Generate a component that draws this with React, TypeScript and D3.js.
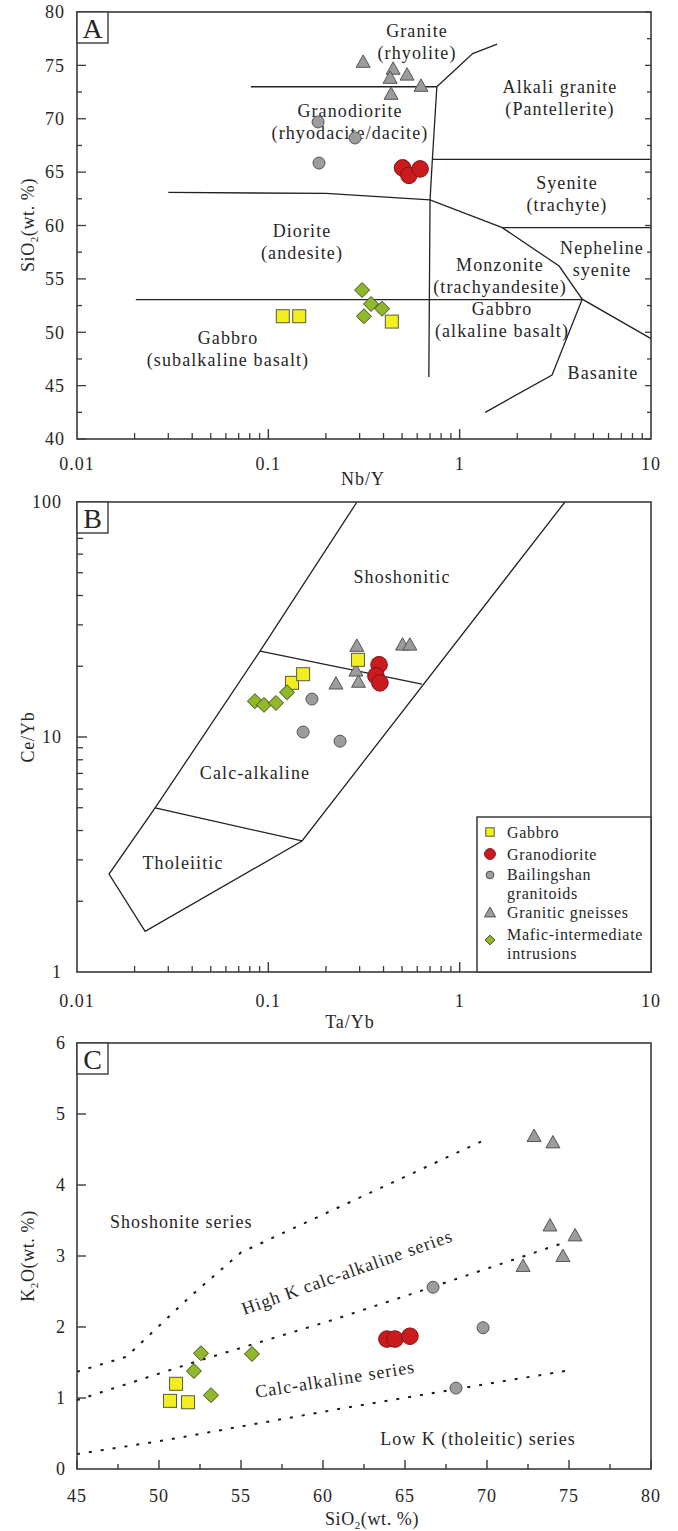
import React from "react";
import * as d3 from "d3";

// ---------- DATA ----------
// Panel A: Nb/Y vs SiO2
const aGabbro = [[0.119, 51.5], [0.145, 51.5], [0.442, 51.0]];
const aGranodiorite = [[0.503, 65.4], [0.543, 64.7], [0.621, 65.3]];
const aBailingshan = [[0.182, 69.7], [0.184, 65.85], [0.284, 68.2]];
const aGneiss = [[0.313, 75.4], [0.449, 74.75], [0.531, 74.2], [0.433, 73.9], [0.628, 73.15], [0.438, 72.4]];
const aMafic = [[0.309, 53.95], [0.344, 52.65], [0.393, 52.2], [0.316, 51.5]];

// Panel B: Ta/Yb vs Ce/Yb
const bGabbro = [[0.133, 17.0], [0.152, 18.5], [0.294, 21.3]];
const bGranodiorite = [[0.379, 20.3], [0.365, 18.2], [0.383, 17.0]];
const bBailingshan = [[0.169, 14.5], [0.152, 10.5], [0.237, 9.6]];
const bGneiss = [[0.290, 24.6], [0.287, 19.3], [0.296, 17.3], [0.2256, 17.0], [0.503, 24.9], [0.549, 24.9]];
const bMafic = [[0.0851, 14.2], [0.0949, 13.7], [0.1096, 13.96], [0.1252, 15.5]];

// Panel C: SiO2 vs K2O
const cGabbro = [[51.04, 1.2], [50.67, 0.96], [51.77, 0.94]];
const cGranodiorite = [[63.9, 1.83], [64.39, 1.83], [65.3, 1.87]];
const cBailingshan = [[66.71, 2.56], [69.76, 1.99], [68.11, 1.14]];
const cGneiss = [[72.87, 4.7], [74.02, 4.61], [73.84, 3.44], [75.37, 3.3], [74.63, 3.01], [72.2, 2.87]];
const cMafic = [[52.56, 1.63], [52.13, 1.38], [53.17, 1.04], [55.67, 1.62]];

// Boundary lines
const aLines = [
  [[0.081, 73], [0.76, 73]],
  [[0.76, 73], [1.17, 76.1], [1.57, 77.0]],
  [[0.76, 73], [0.72, 66.2], [0.70, 62.4], [0.69, 45.8]],
  [[0.72, 66.2], [10, 66.2]],
  [[1.67, 59.8], [10, 59.8]],
  [[0.03, 63.1], [0.2, 63.0], [0.70, 62.4], [1.67, 59.8], [3.31, 56.2], [4.37, 53.1], [10, 49.4]],
  [[4.37, 53.1], [3.04, 46.0], [1.36, 42.5]],
  [[0.0203, 53.05], [4.37, 53.05]],
];
const bLines = [
  [[0.2905, 100], [0.0905, 23.2], [0.0256, 4.99], [0.0147, 2.61], [0.0227, 1.49], [0.15, 3.61], [3.55, 100]],
  [[0.0905, 23.2], [0.635, 16.8]],
  [[0.0256, 4.99], [0.15, 3.61]],
];
const cLines = [
  [[45, 1.37], [48, 1.58], [52, 2.45], [55, 3.05], [70, 4.65]],
  [[45, 0.97], [52.5, 1.53], [60.6, 2.1], [66.5, 2.55], [74.6, 3.18]],
  [[45, 0.21], [50.5, 0.41], [55.5, 0.62], [60.6, 0.83], [67.7, 1.11], [75, 1.39]],
];

const aYTicks = [40, 45, 50, 55, 60, 65, 70, 75, 80];
const logXTicks = [0.01, 0.1, 1, 10];
const logXLabels = ["0.01", "0.1", "1", "10"];
const bYTicks = [1, 10, 100];
const cXTicks = [45, 50, 55, 60, 65, 70, 75, 80];
const cYTicks = [0, 1, 2, 3, 4, 5, 6];

const legendItems = [
  { shape: "square", lines: ["Gabbro"] },
  { shape: "red", lines: ["Granodiorite"] },
  { shape: "gray", lines: ["Bailingshan", "granitoids"] },
  { shape: "tri", lines: ["Granitic gneisses"] },
  { shape: "diamond", lines: ["Mafic-intermediate", "intrusions"] },
];

// ---------- STYLE ----------
const FONT = "'Liberation Serif','Times New Roman',Times,serif";
const TXT = "#262626";
const FRAME = "#3a3a3a";
const YELLOW = "#f3ee1f";
const RED = "#cc1b1f";
const GRAY = "#9c9c9c";
const GREEN = "#8fb82a";

const X0 = 77, X1 = 651;

function Marker({ shape, x, y, s = 1 }) {
  if (shape === "square") {
    const h = 6.5 * s;
    return <rect x={x - h} y={y - h} width={2 * h} height={2 * h} fill={YELLOW} stroke="#5a5a3a" strokeWidth={1} />;
  }
  if (shape === "red") return <circle cx={x} cy={y} r={8.3 * s} fill={RED} stroke="#7a1515" strokeWidth={1} />;
  if (shape === "gray") return <circle cx={x} cy={y} r={6 * s} fill={GRAY} stroke="#555" strokeWidth={1} />;
  if (shape === "tri") {
    const w = 7 * s, h = 6.2 * s;
    return <path d={`M${x},${y - h}L${x + w},${y + h}L${x - w},${y + h}Z`} fill={GRAY} stroke="#555" strokeWidth={1} />;
  }
  const d = 7.5 * s;
  return <path d={`M${x},${y - d}L${x + d},${y}L${x},${y + d}L${x - d},${y}Z`} fill={GREEN} stroke="#44501c" strokeWidth={1} />;
}

function Points({ data, shape, xs, ys }) {
  return <g>{data.map((p, i) => <Marker key={i} shape={shape} x={xs(p[0])} y={ys(p[1])} />)}</g>;
}

function Label({ x, y, lines, size = 18, anchor = "middle", ls = 1.1, gap = 22 }) {
  return (
    <g>
      {lines.map((t, i) => (
        <text key={i} x={x} y={y + i * gap} dy="0.35em" textAnchor={anchor} fontSize={size}
          fontFamily={FONT} fill={TXT} letterSpacing={ls}>{t}</text>
      ))}
    </g>
  );
}

function Frame({ top, bottom, letter }) {
  return (
    <g>
      <rect x={X0} y={top} width={X1 - X0} height={bottom - top} fill="none" stroke={FRAME} strokeWidth={1.6} />
      <rect x={X0} y={top} width={31} height={31} fill="#fff" stroke={FRAME} strokeWidth={1.4} />
      <text x={X0 + 15.5} y={top + 16} dy="0.35em" textAnchor="middle" fontSize={28} fontFamily={FONT} fill={TXT}>{letter}</text>
    </g>
  );
}

function LogXAxis({ xs, yAxis, labelY }) {
  const minors = [];
  [0.01, 0.1, 1].forEach((dec) => {
    for (let k = 2; k <= 9; k++) minors.push(dec * k);
  });
  return (
    <g>
      {minors.map((v, i) => (
        <line key={"m" + i} x1={xs(v)} x2={xs(v)} y1={yAxis} y2={yAxis - 6} stroke={FRAME} strokeWidth={1.3} />
      ))}
      {[0.1, 1].map((v, i) => (
        <line key={"M" + i} x1={xs(v)} x2={xs(v)} y1={yAxis} y2={yAxis - 10} stroke={FRAME} strokeWidth={1.4} />
      ))}
      {logXTicks.map((v, i) => (
        <text key={"l" + i} x={xs(v)} y={labelY} textAnchor="middle" fontSize={18} fontFamily={FONT} fill={TXT} letterSpacing={1}>{logXLabels[i]}</text>
      ))}
    </g>
  );
}

function Lines({ lines, xs, ys, dashed = false }) {
  const gen = d3.line().x((d) => xs(d[0])).y((d) => ys(d[1]));
  return (
    <g>
      {lines.map((l, i) => (
        <path key={i} d={gen(l)} fill="none" stroke={dashed ? "#1a1a1a" : "#222"}
          strokeWidth={dashed ? 2 : 1.3} strokeDasharray={dashed ? "3 9" : undefined} />
      ))}
    </g>
  );
}

export default function App() {
  // Scales
  const xA = d3.scaleLog().domain([0.01, 10]).range([X0, X1]);
  const yA = d3.scaleLinear().domain([40, 80]).range([439, 12]);
  const xB = d3.scaleLog().domain([0.01, 10]).range([X0, X1]);
  const yB = d3.scaleLog().domain([1, 100]).range([972, 502]);
  const xC = d3.scaleLinear().domain([45, 80]).range([X0, X1]);
  const yC = d3.scaleLinear().domain([0, 6]).range([1469, 1043]);

  const aSteps = d3.range(40, 80.01, 2.5);
  const bMinor = [];
  [1, 10].forEach((dec) => { for (let k = 2; k <= 9; k++) bMinor.push(dec * k); });
  const cMinorX = d3.range(45, 80.01, 2.5);

  return (
    <svg width={678} height={1531} style={{ position: "absolute", left: 0, top: 0, background: "#fff" }}>
      <rect width={678} height={1531} fill="#fff" />

      {/* ---------- Panel A ---------- */}
      <Lines lines={aLines} xs={xA} ys={yA} />
      {aSteps.map((v, i) => {
        const major = v % 5 === 0;
        return (
          <g key={i}>
            <line x1={X0} x2={X0 + (major ? 9 : 5)} y1={yA(v)} y2={yA(v)} stroke={FRAME} strokeWidth={1.3} />
            <line x1={X1} x2={X1 - (major ? 6 : 4)} y1={yA(v)} y2={yA(v)} stroke={FRAME} strokeWidth={1.3} />
          </g>
        );
      })}
      {aYTicks.map((v) => (
        <text key={v} x={65} y={yA(v)} dy="0.35em" textAnchor="end" fontSize={18} fontFamily={FONT} fill={TXT} letterSpacing={1}>{v}</text>
      ))}
      <LogXAxis xs={xA} yAxis={439} labelY={470} />
      <Label x={417} y={31} lines={["Granite", "(rhyolite)"]} />
      <Label x={560} y={87} lines={["Alkali granite", "(Pantellerite)"]} />
      <Label x={350} y={111} lines={["Granodiorite", "(rhyodacite/dacite)"]} />
      <Label x={567} y={183} lines={["Syenite", "(trachyte)"]} />
      <Label x={302} y={231} lines={["Diorite", "(andesite)"]} />
      <Label x={602} y={248} lines={["Nepheline", "syenite"]} />
      <Label x={500} y={265} lines={["Monzonite", "(trachyandesite)"]} />
      <Label x={502} y={309} lines={["Gabbro", "(alkaline basalt)"]} />
      <Label x={603} y={373} lines={["Basanite"]} />
      <Label x={228} y={338} lines={["Gabbro", "(subalkaline basalt)"]} />
      <Points data={aBailingshan} shape="gray" xs={xA} ys={yA} />
      <Points data={aGneiss} shape="tri" xs={xA} ys={yA} />
      <Points data={aGranodiorite} shape="red" xs={xA} ys={yA} />
      <Points data={aGabbro} shape="square" xs={xA} ys={yA} />
      <Points data={aMafic} shape="diamond" xs={xA} ys={yA} />
      <Frame top={12} bottom={439} letter="A" />
      <text x={363} y={485} textAnchor="middle" fontSize={18} fontFamily={FONT} fill={TXT} letterSpacing={1}>Nb/Y</text>
      <text transform="translate(34,225) rotate(-90)" textAnchor="middle" fontSize={18} fontFamily={FONT} fill={TXT} letterSpacing={0.6}>
        SiO<tspan fontSize={11} dy={4}>2</tspan><tspan dy={-4}>(wt.  %)</tspan>
      </text>

      {/* ---------- Panel B ---------- */}
      <Lines lines={bLines} xs={xB} ys={yB} />
      {bMinor.map((v, i) => (
        <line key={i} x1={X0} x2={X0 + 6} y1={yB(v)} y2={yB(v)} stroke={FRAME} strokeWidth={1.3} />
      ))}
      <line x1={X0} x2={X0 + 10} y1={yB(10)} y2={yB(10)} stroke={FRAME} strokeWidth={1.4} />
      {bYTicks.map((v) => (
        <text key={v} x={62} y={yB(v)} dy="0.35em" textAnchor="end" fontSize={18} fontFamily={FONT} fill={TXT} letterSpacing={1}>{v}</text>
      ))}
      <LogXAxis xs={xB} yAxis={972} labelY={1007} />
      <Label x={402} y={577} lines={["Shoshonitic"]} />
      <Label x={255} y={773} lines={["Calc-alkaline"]} />
      <Label x={183} y={863} lines={["Tholeiitic"]} />
      <Points data={bBailingshan} shape="gray" xs={xB} ys={yB} />
      <Points data={bGneiss} shape="tri" xs={xB} ys={yB} />
      <Points data={bGranodiorite} shape="red" xs={xB} ys={yB} />
      <Points data={bGabbro} shape="square" xs={xB} ys={yB} />
      <Points data={bMafic} shape="diamond" xs={xB} ys={yB} />
      <Frame top={502} bottom={972} letter="B" />
      {/* legend */}
      <rect x={477} y={817} width={X1 - 477} height={972 - 817} fill="#fff" stroke={FRAME} strokeWidth={1.5} />
      {(() => {
        const rows = [832, 854, 875, 912, 940];
        const textRows = [[832], [854], [874, 893], [912], [934, 953]];
        return legendItems.map((it, i) => (
          <g key={i}>
            <Marker shape={it.shape} x={490} y={rows[i]} s={it.shape === "tri" ? 0.8 : 0.65} />
            {it.lines.map((t, j) => (
              <text key={j} x={507} y={textRows[i][j]} dy="0.35em" fontSize={16} fontFamily={FONT} fill={TXT} letterSpacing={0.7}>{t}</text>
            ))}
          </g>
        ));
      })()}
      <text x={350} y={1028} textAnchor="middle" fontSize={18} fontFamily={FONT} fill={TXT} letterSpacing={1}>Ta/Yb</text>
      <text transform="translate(34,737) rotate(-90)" textAnchor="middle" fontSize={18} fontFamily={FONT} fill={TXT} letterSpacing={0.8}>Ce/Yb</text>

      {/* ---------- Panel C ---------- */}
      <Lines lines={cLines} xs={xC} ys={yC} dashed />
      {cYTicks.slice(1, 6).map((v) => (
        <line key={v} x1={X0} x2={X0 + 9} y1={yC(v)} y2={yC(v)} stroke={FRAME} strokeWidth={1.4} />
      ))}
      {cMinorX.map((v, i) => {
        const major = v % 5 === 0;
        return <line key={i} x1={xC(v)} x2={xC(v)} y1={1469} y2={1469 - (major ? 9 : 5)} stroke={FRAME} strokeWidth={1.4} />;
      })}
      {cYTicks.map((v) => (
        <text key={v} x={65} y={yC(v)} dy="0.35em" textAnchor="end" fontSize={18} fontFamily={FONT} fill={TXT}>{v}</text>
      ))}
      {cXTicks.map((v) => (
        <text key={v} x={xC(v)} y={1502} textAnchor="middle" fontSize={18} fontFamily={FONT} fill={TXT} letterSpacing={1}>{v}</text>
      ))}
      <Label x={110} y={1222} lines={["Shoshonite series"]} anchor="start" ls={1} />
      <g transform="translate(347,1272) rotate(-19.5)">
        <Label x={0} y={0} lines={["High K calc-alkaline series"]} ls={1} />
      </g>
      <g transform="translate(335,1379) rotate(-9)">
        <Label x={0} y={0} lines={["Calc-alkaline series"]} ls={1} />
      </g>
      <Label x={478} y={1439} lines={["Low K (tholeitic) series"]} ls={1} />
      <Points data={cBailingshan} shape="gray" xs={xC} ys={yC} />
      <Points data={cGneiss} shape="tri" xs={xC} ys={yC} />
      <Points data={cGranodiorite} shape="red" xs={xC} ys={yC} />
      <Points data={cGabbro} shape="square" xs={xC} ys={yC} />
      <Points data={cMafic} shape="diamond" xs={xC} ys={yC} />
      <Frame top={1043} bottom={1469} letter="C" />
      <text x={372} y={1525} textAnchor="middle" fontSize={18} fontFamily={FONT} fill={TXT} letterSpacing={0.6}>
        SiO<tspan fontSize={11} dy={4}>2</tspan><tspan dy={-4}>(wt. %)</tspan>
      </text>
      <text transform="translate(34,1256) rotate(-90)" textAnchor="middle" fontSize={18} fontFamily={FONT} fill={TXT} letterSpacing={0.6}>
        K<tspan fontSize={11} dy={4}>2</tspan><tspan dy={-4}>O(wt. %)</tspan>
      </text>
    </svg>
  );
}
